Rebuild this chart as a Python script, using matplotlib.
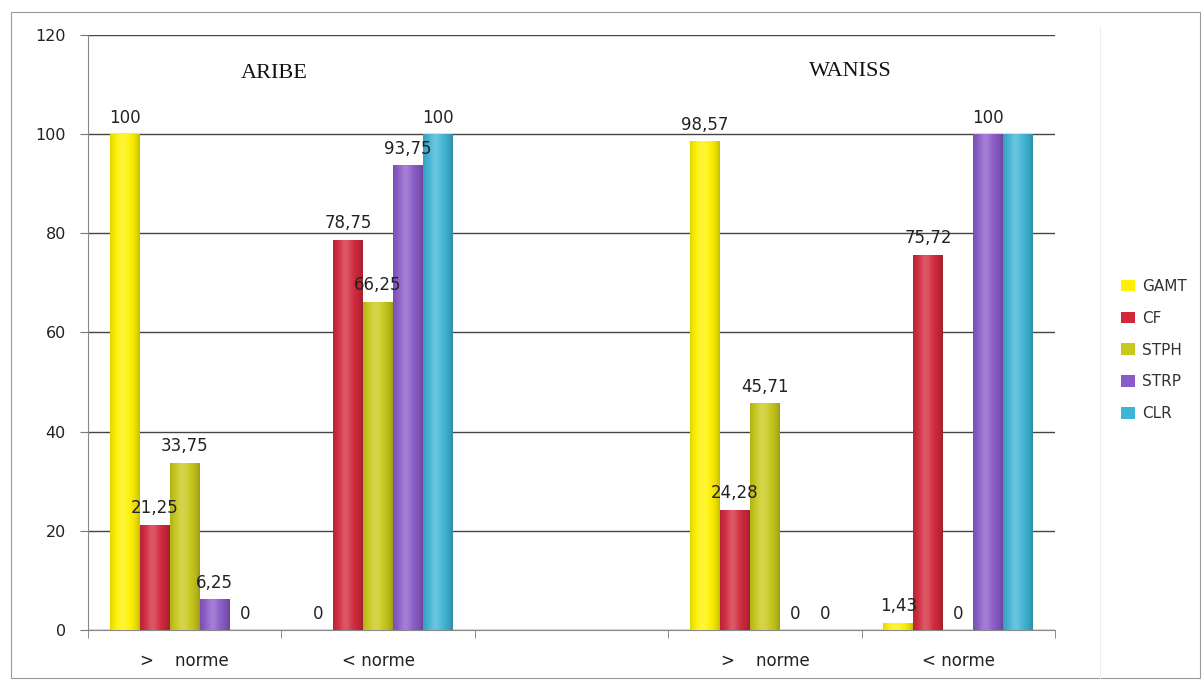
import numpy as np
import matplotlib
matplotlib.use("Agg")
import matplotlib.pyplot as plt
from matplotlib.patches import Rectangle
from matplotlib.lines import Line2D
from matplotlib.colors import to_rgb

# ---- data -------------------------------------------------------------
categories = [">    norme", "< norme", "", ">    norme", "< norme"]
series = ["GAMT", "CF", "STPH", "STRP", "CLR"]
gamt = [100, 0, None, 98.57, 1.43]
cf = [21.25, 78.75, None, 24.28, 75.72]
stph = [33.75, 66.25, None, 45.71, 0]
strp = [6.25, 93.75, None, 0, 100]
clr = [0, 100, None, 0, 100]
colors = ["#FFF200", "#D2283C", "#C9C91C", "#8A5AC8", "#3EB4D4"]
site_titles = ["ARIBE", "WANISS"]
yticks = [0, 20, 40, 60, 80, 100, 120]

values = [gamt, cf, stph, strp, clr]
# value labels left off where they would sit on top of a neighbour's label
hidden_labels = {("CLR", 4)}

# ---- figure -----------------------------------------------------------
fig = plt.figure(figsize=(12.01, 6.81), dpi=100)
ax = fig.add_axes([0.0733, 0.0749, 0.8051, 0.8737])

x = np.arange(len(categories))
width = 0.155


def shade(color):
    """Horizontal shading to give each bar a rounded, cylinder-like look."""
    base = np.array(to_rgb(color))
    t = np.linspace(0, 1, 64)
    light = 0.22 * np.exp(-((t - 0.42) / 0.2) ** 2)
    dark = 0.22 * (np.abs(t - 0.45) / 0.55) ** 3
    rgb = base[None, :] * (1 - dark[:, None]) + light[:, None] * (1 - base[None, :])
    return np.clip(rgb, 0, 1)[None, :, :]


for i, (name, vals, col) in enumerate(zip(series, values, colors)):
    offs = (i - 2) * width
    idx = [k for k, v in enumerate(vals) if v is not None]
    xs = [x[k] + offs for k in idx]
    hs = [vals[k] for k in idx]
    bars = ax.bar(xs, hs, width=width, color=col, label=name, zorder=3,
                  linewidth=0)
    for k, b, v in zip(idx, bars, hs):
        if v > 0:
            img = ax.imshow(shade(col), extent=[b.get_x(), b.get_x() + width, 0, v],
                            aspect="auto", zorder=3.5, interpolation="bilinear")
            img.set_clip_path(b)
        if (name, k) in hidden_labels:
            continue
        lab = ("%g" % v).replace(".", ",")
        ax.text(b.get_x() + width / 2, v + 1.5, lab, ha="center", va="bottom",
                fontsize=12, color="#222222", zorder=5,
                family="DejaVu Sans")

ax.set_xlim(-0.5, len(categories) - 0.5)
ax.set_ylim(0, 120)

# axes styling
ax.set_yticks(yticks)
ax.set_yticklabels([str(t) for t in yticks], fontsize=11.5, color="#222222")
ax.set_xticks(x)
ax.set_xticklabels(categories, fontsize=12, color="#222222")
ax.set_xticks(np.arange(-0.5, len(categories)), minor=True)
ax.tick_params(axis="x", which="major", length=0, pad=16)
ax.tick_params(axis="x", which="minor", length=6, color="#777777", direction="out")
ax.tick_params(axis="y", length=6, color="#777777", pad=10)

ax.grid(axis="y", color="#444444", linewidth=1.0, zorder=0)
ax.set_axisbelow(True)
for s in ["top", "right"]:
    ax.spines[s].set_visible(False)
ax.spines["left"].set_color("#888888")
ax.spines["bottom"].set_color("#888888")

# site titles
ax.text(0.193, 0.935, site_titles[0], transform=ax.transAxes, ha="center",
        va="center", fontsize=16, family="Liberation Serif", color="#111111")
ax.text(0.788, 0.938, site_titles[1], transform=ax.transAxes, ha="center",
        va="center", fontsize=16, family="Liberation Serif", color="#111111")

# legend
handles = [Rectangle((0, 0), 1, 1, facecolor=c, edgecolor="none") for c in colors]
fig.legend(handles, series, loc="center left", bbox_to_anchor=(0.922, 0.486),
           frameon=False, fontsize=11, handlelength=0.9, handleheight=0.8,
           handletextpad=0.5, labelspacing=1.1, labelcolor="#333333")

# chart frame
fig.add_artist(Rectangle((0.009, 0.005), 0.99, 0.977, transform=fig.transFigure,
                         fill=False, edgecolor="#9a9a9a", linewidth=0.8))
fig.add_artist(Line2D([0.916, 0.916], [0.005, 0.96], transform=fig.transFigure,
                      color="#eeeeee", linewidth=0.8))

fig.savefig("out.png", dpi=100, facecolor="white")
